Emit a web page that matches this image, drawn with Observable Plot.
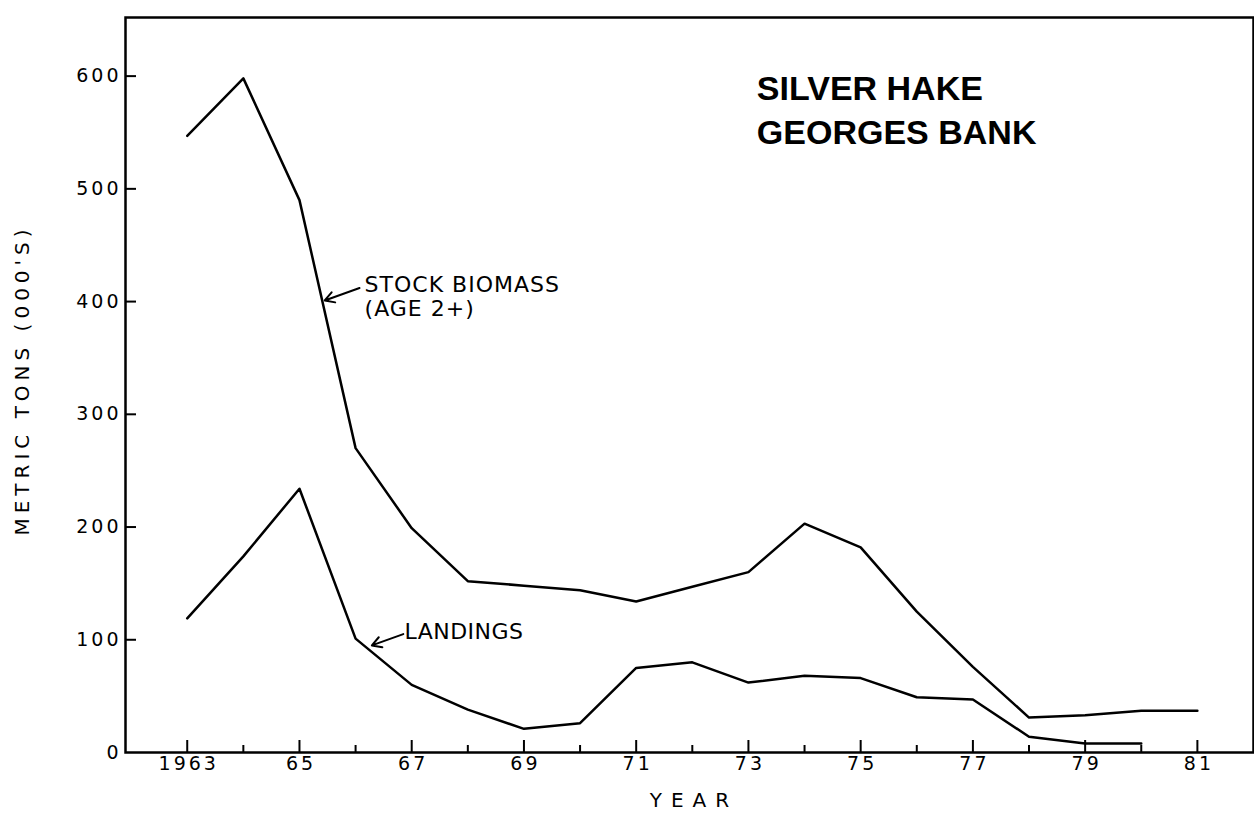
<!DOCTYPE html>
<html>
<head>
<meta charset="utf-8">
<script src="https://cdn.jsdelivr.net/npm/d3@7"></script>
<script src="https://cdn.jsdelivr.net/npm/@observablehq/plot@0.6"></script>
<style>
  html, body { margin: 0; padding: 0; background: #fff; }
  svg { display: block; }
</style>
</head>
<body>
<div id="chart"></div>
<script>
// ---- data ----
const biomassYears = [1963,1964,1965,1966,1967,1968,1969,1970,1971,1972,1973,1974,1975,1976,1977,1978,1979,1980,1981];
const biomass      = [547, 598, 490, 270, 199, 152, 148, 144, 134, 147, 160, 203, 182, 125, 76, 31, 33, 37, 37];
const landingYears = [1963,1964,1965,1966,1967,1968,1969,1970,1971,1972,1973,1974,1975,1976,1977,1978,1979,1980];
const landings     = [119, 174, 234, 101, 60, 38, 21, 26, 75, 80, 62, 68, 66, 49, 47, 14, 8, 8];
const yTicks = [0, 100, 200, 300, 400, 500, 600];
const allYears = d3.range(1963, 1982);
const labelYears = [1963, 1965, 1967, 1969, 1971, 1973, 1975, 1977, 1979, 1981];
const yearLabel = d => d === 1963 ? "1963" : String(d).slice(2);

const title = "SILVER HAKE\nGEORGES BANK";
const biomassLabel = "STOCK BIOMASS\n(AGE 2+)";
const landingsLabel = "LANDINGS";
const yTitle = "METRIC TONS (000'S)";
const xTitle = "YEAR";

const bioRows = biomassYears.map((year, i) => ({year, value: biomass[i]}));
const landRows = landingYears.map((year, i) => ({year, value: landings[i]}));

// annotation anchors (data space)
const bioArrow = [{x1: 1966.07, y1: 412, x2: 1965.45, y2: 401}];
const landArrow = [{x1: 1966.85, y1: 105, x2: 1966.29, y2: 95}];

const W = 1254, H = 815;
const mL = 125, mR = 1, mT = 17, mB = 63;
const plotW = W - mL - mR, plotH = H - mT - mB;

const font = "DejaVu Sans, sans-serif";

const chart = Plot.plot({
  width: W,
  height: H,
  marginLeft: mL,
  marginRight: mR,
  marginTop: mT,
  marginBottom: mB,
  style: {fontFamily: font, color: "#000", background: "#fff"},
  x: {domain: [1961.9, 1982], axis: null},
  y: {domain: [0, 652], axis: null},
  marks: [
    Plot.frame({stroke: "#000", strokeWidth: 2.5}),
    // x ticks (inward)
    Plot.tickX(allYears.filter(d => !labelYears.includes(d)), {x: d => d, insetTop: plotH - 7, strokeWidth: 2}),
    Plot.tickX(labelYears, {x: d => d, insetTop: plotH - 12, strokeWidth: 2}),
    // y ticks (inward)
    Plot.tickY(yTicks.slice(1), {y: d => d, insetRight: plotW - 11, strokeWidth: 2}),
    // tick labels
    Plot.text(labelYears, {x: d => d, frameAnchor: "bottom", dx: 1.5, dy: 17, text: yearLabel, fontSize: 19, fill: "#000"}),
    Plot.text(yTicks, {y: d => d, frameAnchor: "left", dx: -4, textAnchor: "end", text: d => String(d), fontSize: 19, fill: "#000"}),
    // axis titles
    Plot.text([yTitle], {frameAnchor: "left", textAnchor: "middle", dx: -103, dy: -5, rotate: -90, fontSize: 20, fill: "#000"}),
    Plot.text([xTitle], {x: 1972.03, frameAnchor: "bottom", dy: 54, fontSize: 20, fill: "#000"}),
    // data lines
    Plot.line(bioRows, {x: "year", y: "value", stroke: "#000", strokeWidth: 2.5}),
    Plot.line(landRows, {x: "year", y: "value", stroke: "#000", strokeWidth: 2.5}),
    // annotations
    Plot.arrow(bioArrow, {x1: "x1", y1: "y1", x2: "x2", y2: "y2", stroke: "#000", strokeWidth: 2, headLength: 8}),
    Plot.arrow(landArrow, {x1: "x1", y1: "y1", x2: "x2", y2: "y2", stroke: "#000", strokeWidth: 2, headLength: 8}),
    Plot.text([biomassLabel], {x: 1966.16, y: 404.5, textAnchor: "start", fontSize: 22, lineHeight: 1.1, fill: "#000"}),
    Plot.text([landingsLabel], {x: 1966.87, y: 107, textAnchor: "start", fontSize: 22, fill: "#000"}),
    Plot.text([title], {x: 1973.15, y: 572, textAnchor: "start", fontSize: 34, fontWeight: "bold", lineHeight: 1.32, fill: "#000", fontFamily: "Liberation Sans, Arial, sans-serif"})
  ]
});

// letter-spacing to imitate the wide hand-lettered glyphs
const tickTexts = new Set([...labelYears.map(yearLabel), ...yTicks.map(String)]);
d3.select(chart).selectAll("text").each(function () {
  const t = this.textContent;
  let ls = null;
  if (tickTexts.has(t)) ls = 3;
  else if (t === yTitle) ls = 5;
  else if (t === xTitle) ls = 9;
  else if (t.startsWith("STOCK")) ls = 1;
  else if (t === landingsLabel) ls = 0.5;
  if (ls !== null) this.setAttribute("letter-spacing", ls);
});

document.getElementById("chart").appendChild(chart);
</script>
</body>
</html>
